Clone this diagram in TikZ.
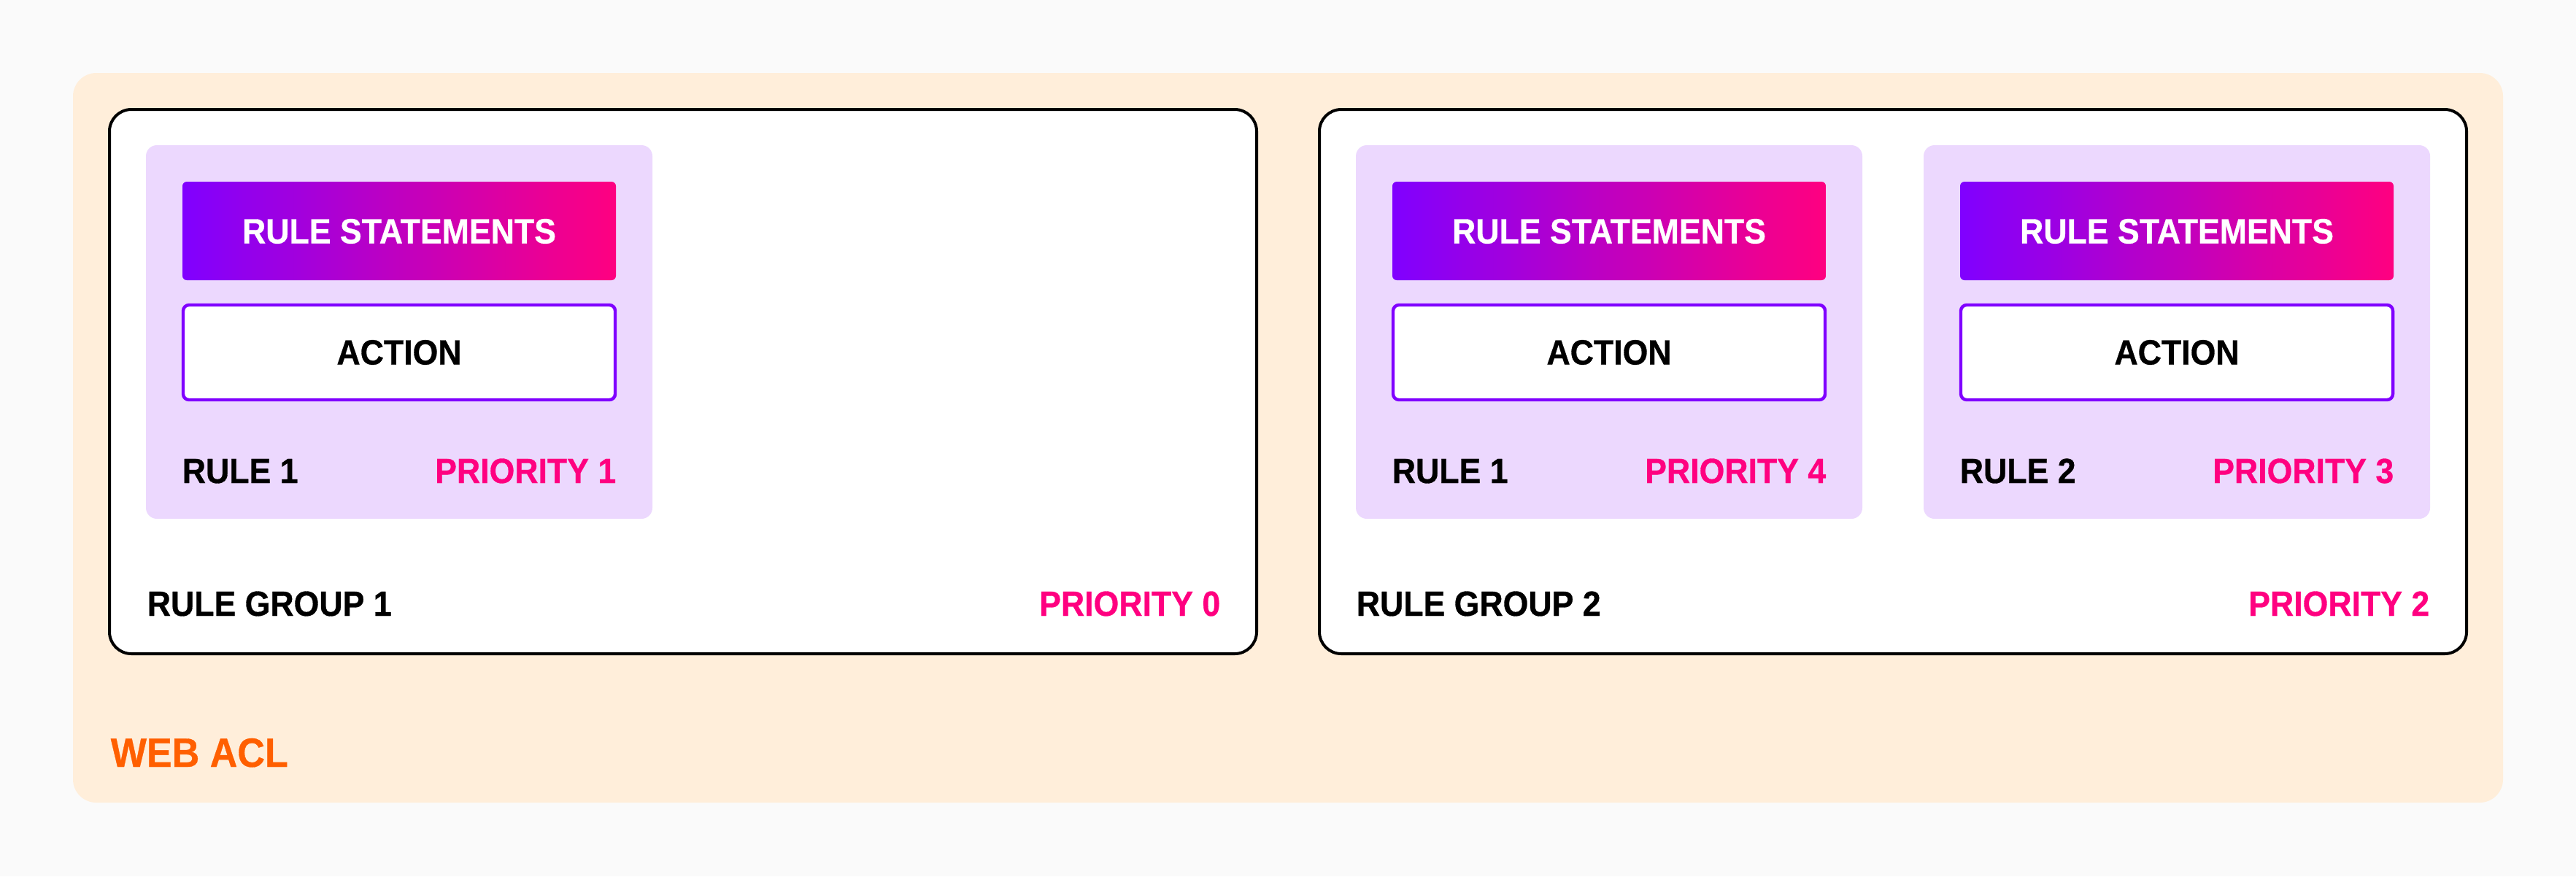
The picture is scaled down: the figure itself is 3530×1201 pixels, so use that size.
\documentclass[tikz,border=0pt]{standalone}
\usepackage{fontspec}
\setmainfont{Liberation Sans}[BoldFont={Liberation Sans Bold}, BoldFeatures={FakeStretch=0.93, FakeBold=0.6}, FakeStretch=0.93]
\definecolor{bgc}{HTML}{FAFAFA}
\definecolor{aclfill}{HTML}{FFEEDA}
\definecolor{acltext}{HTML}{FF5F00}
\definecolor{rulefill}{HTML}{ECD8FE}
\definecolor{violetc}{HTML}{8000FF}
\definecolor{pinkc}{HTML}{FF0080}
\tikzset{
  aclbox/.style={fill=aclfill, rounded corners=8pt},
  groupbox/.style={draw=black, fill=white, line width=1pt, rounded corners=7.5pt},
  rulebox/.style={fill=rulefill, rounded corners=3.75pt},
  stmtbox/.style={left color=violetc, right color=pinkc, rounded corners=1.5pt},
  actionbox/.style={draw=violetc, fill=white, line width=1.1pt, rounded corners=2pt},
  lbl/.style={inner sep=0pt, font=\fontsize{12pt}{14pt}\selectfont\bfseries},
  pri/.style={lbl, text=pinkc, anchor=base east},
  nm/.style={lbl, text=black, anchor=base west},
  boxtext/.style={lbl, anchor=center},
}
\begin{document}
\begin{tikzpicture}[x=0.25pt, y=-0.25pt]
\fill[bgc] (0,0) rectangle (3530,1201);
\useasboundingbox (0,0) rectangle (3530,1201);
% web acl
\path[aclbox] (100,100) rectangle (3430,1100);
\node[lbl, text=acltext, anchor=base west, font=\fontsize{14pt}{16pt}\selectfont\bfseries] (acl) at (151,1051) {WEB ACL};
% groups
\path[groupbox] (150,150) rectangle (1722,896);
\path[groupbox] (1808,150) rectangle (3380,896);
\node[nm] (g1name) at (201,844) {RULE GROUP 1};
\node[pri] (g1pri) at (1673,844) {PRIORITY 0};
\node[nm] (g2name) at (1858,844) {RULE GROUP 2};
\node[pri] (g2pri) at (3330,844) {PRIORITY 2};
% rule boxes
\foreach \x/\id/\r/\p in {200/a/1/1, 1858/b/1/4, 2636/c/2/3}{
  \path[rulebox] (\x,199) rectangle ({\x+694},711);
  \shade[stmtbox] ({\x+50},249) rectangle ({\x+644},384);
  \node[boxtext, text=white] (stmt\id) at ({\x+347},317) {RULE STATEMENTS};
  \path[actionbox] ({\x+51},418) rectangle ({\x+643},548);
  \node[boxtext, text=black] (act\id) at ({\x+347},483) {ACTION};
  \node[nm] (rn\id) at ({\x+49},662) {RULE \r};
  \node[pri] (rp\id) at ({\x+645},662) {PRIORITY \p};
}
\end{tikzpicture}
\end{document}
